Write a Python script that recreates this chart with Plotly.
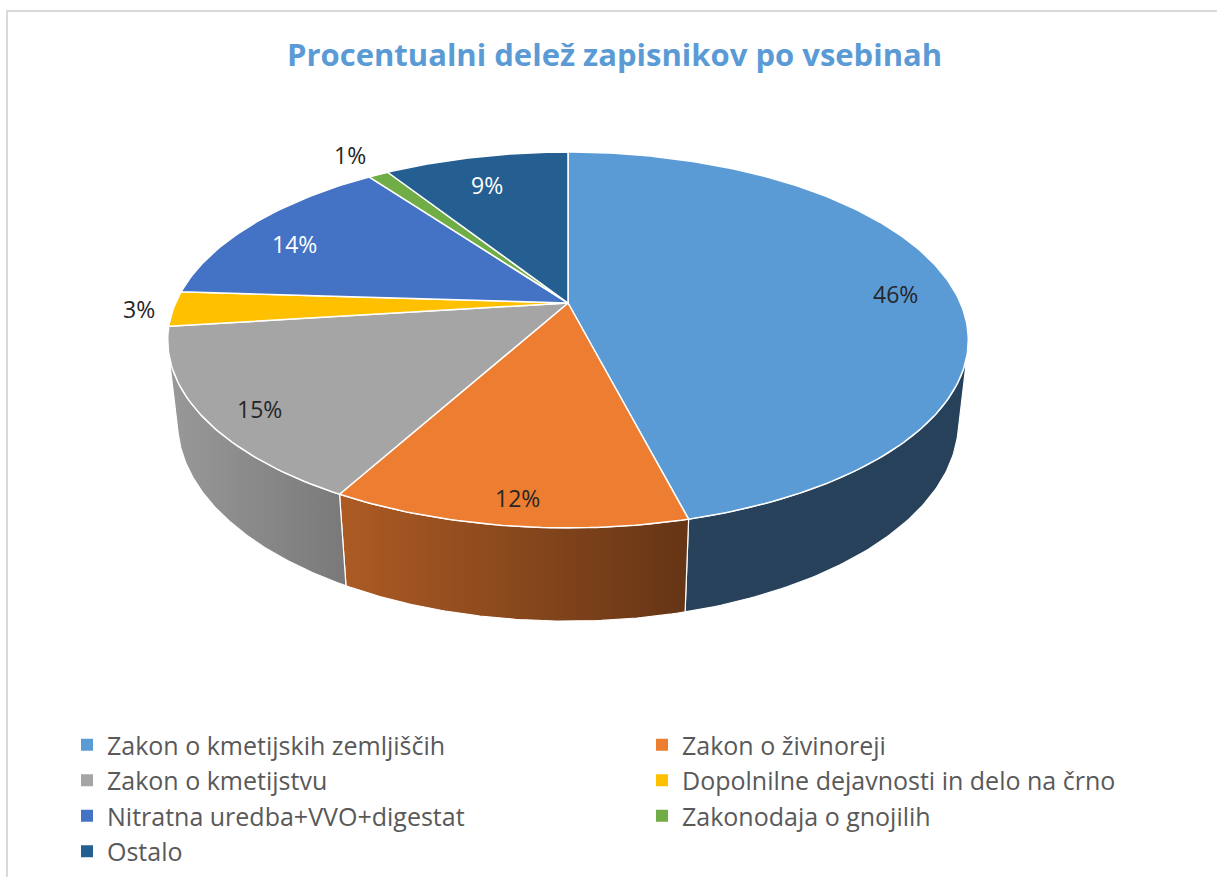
import numpy as np
import plotly.graph_objects as go

# data
categories = ["Zakon o kmetijskih zemljiščih", "Zakon o živinoreji", "Zakon o kmetijstvu",
              "Dopolnilne dejavnosti in delo na črno", "Nitratna uredba+VVO+digestat",
              "Zakonodaja o gnojilih", "Ostalo"]
values = [46, 12, 15, 3, 14, 1, 9]
colors = ["#5B9BD5", "#ED7D31", "#A5A5A5", "#FFC000", "#4472C4", "#70AD47", "#255E91"]
label_colors = ["#262626", "#262626", "#262626", "#262626", "white", "#262626", "white"]

W, H = 1217, 877
FONT = "Open Sans, Calibri, sans-serif"

# fake 3d pie: perspective projection of a flat cylinder (pixel space)
CX, CY = 568, 303
F, DIST = 1770, 4.51
TILT = np.radians(27.4)
CA, SA = np.cos(TILT), np.sin(TILT)
DEPTH = 0.237


def proj(t_deg, r=1.0, z=0.0):
    t = np.radians(t_deg)
    X = r * np.sin(t)
    Y = r * np.cos(t)
    v = Y * SA + z * CA
    w = DIST + Y * CA - z * SA
    return CX + F * X / w, CY - F * v / w


def shade(hexcol, k):
    c = [int(hexcol[i:i + 2], 16) for i in (1, 3, 5)]
    return "rgb(%d,%d,%d)" % tuple(int(round(v * k)) for v in c)


def side_light(t):
    return np.interp(t, [165, 210, 256], [0.42, 0.74, 0.93])


total = sum(values)
cum = np.concatenate([[0], np.cumsum(values)]) / total * 360
t_sil = np.degrees(np.arccos(-1 / (DIST * CA)))
sil_lo, sil_hi = t_sil, 360 - t_sil

fig = go.Figure()

# side walls
for i in range(len(values)):
    lo, hi = max(cum[i], sil_lo), min(cum[i + 1], sil_hi)
    if hi <= lo:
        continue
    ts = np.linspace(lo, hi, 80)
    xt, yt = proj(ts)
    xb, yb = proj(ts[::-1], z=-DEPTH)
    xs = np.concatenate([xt, xb, xt[:1]])
    ys = np.concatenate([yt, yb, yt[:1]])
    # left side of screen = larger angle
    fig.add_trace(go.Scatter(
        x=xs, y=ys, mode="lines", fill="toself",
        fillgradient=dict(type="horizontal",
                          colorscale=[[0, shade(colors[i], side_light(hi))],
                                      [1, shade(colors[i], side_light(lo))]]),
        line=dict(color="white", width=1.2), showlegend=False, hoverinfo="skip"))

# top faces
for i in range(len(values)):
    ts = np.linspace(cum[i], cum[i + 1], max(int(values[i] * 4), 6))
    xr, yr = proj(ts)
    x0, y0 = proj(0, r=0)
    xs = np.concatenate([[x0], xr, [x0]])
    ys = np.concatenate([[y0], yr, [y0]])
    fig.add_trace(go.Scatter(
        x=xs, y=ys, mode="lines", fill="toself", fillcolor=colors[i],
        line=dict(color="white", width=1.5), showlegend=False, hoverinfo="skip"))

# data labels
for i, v in enumerate(values):
    mid = (cum[i] + cum[i + 1]) / 2
    if v >= 5:
        lx, ly = proj(mid, r=0.86)
        ly += 10
    else:
        rx, ry = proj(mid)
        d = np.hypot(rx - CX, ry - CY)
        lx = rx + (rx - CX) / d * 34
        ly = ry + (ry - CY) / d * 34
    fig.add_annotation(x=lx, y=ly, text=f"{v}%", showarrow=False,
                       font=dict(family=FONT, size=23, color=label_colors[i]))

# legend entries
for name, c in zip(categories, colors):
    fig.add_trace(go.Scatter(x=[None], y=[None], mode="markers", name=name,
                             marker=dict(symbol="square", size=12, color=c)))

fig.add_shape(type="rect", xref="x", yref="y", x0=7, y0=11, x1=1240, y1=900,
              line=dict(color="#D9D9D9", width=2), layer="below")

fig.update_layout(
    width=W, height=H,
    margin=dict(l=0, r=0, t=0, b=0, autoexpand=False),
    paper_bgcolor="white", plot_bgcolor="white",
    font=dict(family=FONT, color="#595959"),
    title=dict(text="<b>Procentualni delež zapisnikov po vsebinah</b>",
               x=0.505, xanchor="center", y=1 - 55 / H, yanchor="middle",
               font=dict(family=FONT, size=31, color="#5B9BD5")),
    xaxis=dict(range=[0, W], visible=False, fixedrange=True),
    yaxis=dict(range=[H, 0], visible=False, fixedrange=True),
    legend=dict(orientation="h", x=67 / W, xanchor="left", y=1 - 722 / H, yanchor="top",
                entrywidth=530, entrywidthmode="pixels", itemsizing="constant",
                font=dict(family=FONT, size=25, color="#595959"), bgcolor="rgba(0,0,0,0)"),
    showlegend=True,
)

fig.write_html("out.html", config={"displayModeBar": False},
               post_script="document.body.style.margin='0px';")
